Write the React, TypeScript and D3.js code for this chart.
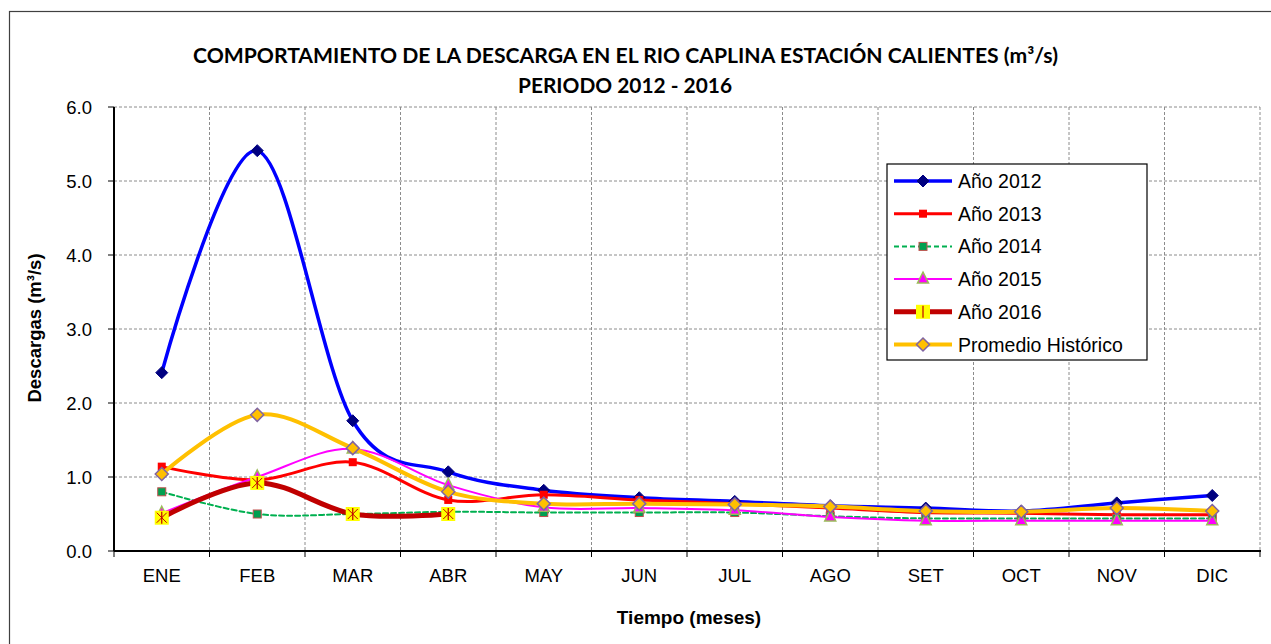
import React from "react";
import * as d3 from "d3";

const months = ["ENE", "FEB", "MAR", "ABR", "MAY", "JUN", "JUL", "AGO", "SET", "OCT", "NOV", "DIC"];
const yTicks = [0, 1, 2, 3, 4, 5, 6];

const s2012 = [2.41, 5.41, 1.76, 1.07, 0.82, 0.72, 0.67, 0.61, 0.58, 0.54, 0.65, 0.75];
const s2013 = [1.14, 0.96, 1.2, 0.69, 0.76, 0.69, 0.64, 0.58, 0.52, 0.51, 0.49, 0.49];
const s2014 = [0.8, 0.5, 0.5, 0.53, 0.52, 0.52, 0.52, 0.47, 0.44, 0.44, 0.44, 0.44];
const s2015 = [0.51, 1.0, 1.38, 0.89, 0.59, 0.58, 0.55, 0.46, 0.41, 0.41, 0.41, 0.41];
const s2016 = [0.45, 0.92, 0.5, 0.5];
const sProm = [1.04, 1.84, 1.39, 0.8, 0.64, 0.64, 0.63, 0.6, 0.54, 0.53, 0.58, 0.54];

const seriesNames = ["Año 2012", "Año 2013", "Año 2014", "Año 2015", "Año 2016", "Promedio Histórico"];

type Marker = "diamond" | "square" | "sqbig" | "triangle" | "diamond2" | "gsquare";
interface Series {
  name: string;
  values: number[];
  color: string;
  width: number;
  dash?: string;
  marker: Marker;
}

const series: Series[] = [
  { name: seriesNames[0], values: s2012, color: "#0000FF", width: 3.5, marker: "diamond" },
  { name: seriesNames[1], values: s2013, color: "#FF0000", width: 3, marker: "square" },
  { name: seriesNames[2], values: s2014, color: "#00B050", width: 2, dash: "5,3", marker: "gsquare" },
  { name: seriesNames[3], values: s2015, color: "#FF00FF", width: 2, marker: "triangle" },
  { name: seriesNames[4], values: s2016, color: "#C00000", width: 5, marker: "sqbig" },
  { name: seriesNames[5], values: sProm, color: "#FFC000", width: 4, marker: "diamond2" },
];

const L = 114, R = 1260, T = 107, B = 551;

function MarkerShape({ kind, x, y, legend }: { kind: Marker; x: number; y: number; legend?: boolean }) {
  switch (kind) {
    case "diamond":
      return <path d={`M${x},${y - 6}L${x + 6},${y}L${x},${y + 6}L${x - 6},${y}Z`} fill="#000080" stroke="#000080" strokeWidth={1} />;
    case "square":
      return <rect x={x - 4} y={y - 4} width={8} height={8} fill="#FF0000" />;
    case "gsquare":
      return <rect x={x - 4} y={y - 4} width={8} height={8} fill="#00A050" stroke="#C0504D" strokeWidth={1} />;
    case "triangle":
      return <path d={`M${x},${y - 7}L${x + 5.5},${y + 4}L${x - 5.5},${y + 4}Z`} fill="#FF00FF" stroke="#9BBB59" strokeWidth={1.5} />;
    case "sqbig":
      return (
        <g>
          <rect x={x - 7} y={y - 7} width={14} height={14} fill="#FFFF00" />
          <line x1={x} y1={y - 6} x2={x} y2={y + 6} stroke="#C00000" strokeWidth={1.2} />
          {!legend && (
            <>
              <line x1={x - 5} y1={y - 5} x2={x + 5} y2={y + 5} stroke="#C00000" strokeWidth={1} />
              <line x1={x + 5} y1={y - 5} x2={x - 5} y2={y + 5} stroke="#C00000" strokeWidth={1} />
            </>
          )}
        </g>
      );
    case "diamond2":
      return <path d={`M${x},${y - 6.5}L${x + 6.5},${y}L${x},${y + 6.5}L${x - 6.5},${y}Z`} fill="#FFC000" stroke="#8064A2" strokeWidth={1.5} />;
  }
}

export default function App() {
  const x = d3.scaleBand<string>().domain(months).range([L, R]).padding(0);
  const bw = x.bandwidth();
  const cx = (i: number) => (x(months[i]) as number) + bw / 2;
  const y = d3.scaleLinear().domain([0, 6]).range([B, T]);

  const line = d3
    .line<number>()
    .x((_, i) => cx(i))
    .y((d) => y(d))
    .curve(d3.curveCardinal.tension(0));

  const boundaries = d3.range(months.length + 1).map((i) => L + i * bw);

  const legX = 887, legY = 164, legW = 260, legH = 196;
  const legRow = 32.7;

  return (
    <svg width={1271} height={644} style={{ position: "absolute", left: 0, top: 0, background: "#fff" }}>
      <rect x={9.5} y={11.5} width={1280} height={660} fill="#fff" stroke="#404040" strokeWidth={1.2} />

      <text x={625.5} y={63} textAnchor="middle" fontFamily="Lato, 'Open Sans', sans-serif" fontWeight="bold" fontSize={21} textLength={865} lengthAdjust="spacingAndGlyphs">
        COMPORTAMIENTO DE LA DESCARGA EN EL RIO CAPLINA ESTACIÓN CALIENTES (m³/s)
      </text>
      <text x={625} y={93} textAnchor="middle" fontFamily="Lato, 'Open Sans', sans-serif" fontWeight="bold" fontSize={21} textLength={214} lengthAdjust="spacingAndGlyphs">
        PERIODO 2012 - 2016
      </text>

      {/* grid */}
      {yTicks.map((t) => (
        <line key={"gy" + t} x1={L} x2={R} y1={y(t)} y2={y(t)} stroke="#8C8C8C" strokeWidth={1} strokeDasharray="3,2" />
      ))}
      {boundaries.map((bx, i) => (
        <line key={"gx" + i} x1={bx} x2={bx} y1={T} y2={B} stroke="#8C8C8C" strokeWidth={1} strokeDasharray="3,2" />
      ))}

      {/* axes */}
      <line x1={L} x2={L} y1={T} y2={B} stroke="#000" strokeWidth={2} />
      <line x1={L} x2={R + 1} y1={B} y2={B} stroke="#000" strokeWidth={2} />
      {yTicks.map((t) => (
        <g key={"yt" + t}>
          <line x1={L - 6} x2={L} y1={y(t)} y2={y(t)} stroke="#000" strokeWidth={1} />
          <text x={92} y={y(t) + 6.5} textAnchor="end" fontFamily="Arial, 'Liberation Sans', sans-serif" fontSize={18.5} fill="#000">
            {t.toFixed(1)}
          </text>
        </g>
      ))}
      {boundaries.map((bx, i) => (
        <line key={"xt" + i} x1={bx} x2={bx} y1={B} y2={B + 6} stroke="#000" strokeWidth={1} />
      ))}
      {months.map((m, i) => (
        <text key={m} x={cx(i)} y={B + 31} textAnchor="middle" fontFamily="Arial, 'Liberation Sans', sans-serif" fontSize={18.5} fill="#000">
          {m}
        </text>
      ))}

      <text x={689} y={624} textAnchor="middle" fontFamily="Arial, 'Liberation Sans', sans-serif" fontWeight="bold" fontSize={19} fill="#000">
        Tiempo (meses)
      </text>
      <text transform={`translate(41,328) rotate(-90)`} textAnchor="middle" fontFamily="Arial, 'Liberation Sans', sans-serif" fontWeight="bold" fontSize={18.5} fill="#000">
        Descargas (m³/s)
      </text>

      {/* series */}
      {series.map((s) => (
        <g key={s.name}>
          <path d={line(s.values) as string} fill="none" stroke={s.color} strokeWidth={s.width} strokeDasharray={s.dash} strokeLinejoin="round" strokeLinecap="round" />
          {s.values.map((v, i) => (
            <MarkerShape key={i} kind={s.marker} x={cx(i)} y={y(v)} />
          ))}
        </g>
      ))}

      {/* legend */}
      <rect x={legX} y={legY} width={legW} height={legH} fill="#fff" stroke="#000" strokeWidth={1.2} />
      {series.map((s, i) => {
        const ly = legY + 17 + i * legRow;
        return (
          <g key={"lg" + s.name}>
            <line x1={legX + 7} x2={legX + 65} y1={ly} y2={ly} stroke={s.color} strokeWidth={s.width} strokeDasharray={s.dash} />
            <MarkerShape kind={s.marker} x={legX + 36} y={ly} legend />
            <text x={legX + 71} y={ly + 7} fontFamily="Arial, 'Liberation Sans', sans-serif" fontSize={19.5} fill="#000">
              {s.name}
            </text>
          </g>
        );
      })}
    </svg>
  );
}
